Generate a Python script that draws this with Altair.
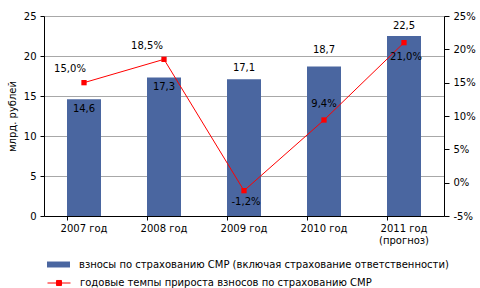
import altair as alt
import pandas as pd

cats = ["2007 год", "2008 год", "2009 год", "2010 год", "2011 год|(прогноз)"]
premiums = [14.6, 17.3, 17.1, 18.7, 22.5]
growth = [15.0, 18.5, -1.2, 9.4, 21.0]
bar_name = "взносы по страхованию СМР (включая страхование ответственности)"
line_name = "годовые темпы прироста взносов по страхованию СМР"

df = pd.DataFrame({
    "cat": cats,
    "prem": premiums,
    "grow": growth,
    "prem_lbl": [f"{v:.1f}".replace(".", ",") for v in premiums],
    "grow_lbl": [f"{v:.1f}".replace(".", ",") + "%" for v in growth],
    "s_bar": [bar_name] * len(cats),
    "s_line": [line_name] * len(cats),
})

FONT = "DejaVu Sans"
BLUE = "#4A66A0"
RED = "#FF0000"

x = alt.X("cat:N", sort=cats, title=None,
          scale=alt.Scale(paddingInner=0.575, paddingOuter=0.2875),
          axis=alt.Axis(bandPosition=0, labelAngle=0, domainColor="black",
                        tickColor="black", tickSize=4, labelPadding=3,
                        labelExpr="split(datum.label, '|')", labelLineHeight=12,
                        labelFontSize=10, labelColor="black", labelFont=FONT))

base = alt.Chart(df)

yL = alt.Y("prem:Q", title="млрд. рублей",
           scale=alt.Scale(domain=[0, 25], nice=False, zero=True),
           axis=alt.Axis(values=[0, 5, 10, 15, 20, 25], tickCount=6, labelOverlap=False,
                         grid=True, gridColor="#A8A8A8",
                         domainColor="black", tickColor="black", tickSize=4,
                         labelPadding=4, labelFontSize=10, labelColor="black",
                         labelFont=FONT, titleFont=FONT, titleFontSize=10,
                         titleFontWeight="normal", titleColor="black", titlePadding=6))

bars = base.mark_bar(color=BLUE).encode(
    x=x, y=yL,
    fill=alt.Fill("s_bar:N", scale=alt.Scale(range=[BLUE]),
                  legend=alt.Legend(title=None, orient="none", legendX=3, legendY=237,
                                    symbolType="M-1,-0.26H1V0.26H-1Z", symbolSize=529,
                                    symbolStrokeWidth=0, labelFontSize=10, labelFont=FONT,
                                    labelColor="black", labelOffset=9, padding=0,
                                    labelLimit=500)),
)

bar_dy = [10, 9, -11, -16, -10]
bar_texts = []
for c, d in zip(cats, bar_dy):
    bar_texts.append(
        base.transform_filter(alt.datum.cat == c)
        .mark_text(font=FONT, fontSize=10, color="black", dy=d)
        .encode(x=x, y=yL, text="prem_lbl:N")
    )

left = alt.layer(bars, *bar_texts)

yR = alt.Y("grow:Q", title=None,
           scale=alt.Scale(domain=[-5, 25], nice=False, zero=False),
           axis=alt.Axis(orient="right", values=[-5, 0, 5, 10, 15, 20, 25], tickCount=7,
                         labelOverlap=False, grid=False,
                         domainColor="black", tickColor="black", tickSize=5,
                         labelPadding=4, labelFontSize=10, labelColor="black",
                         labelFont=FONT, labelExpr="datum.value + '%'"))

line = base.mark_line(strokeWidth=1).encode(
    x=x, y=yR,
    stroke=alt.Stroke("s_line:N", scale=alt.Scale(range=[RED]),
                      legend=alt.Legend(title=None, orient="none", legendX=3, legendY=255,
                                        symbolType="M-1,0H1M-0.22,-0.22H0.22V0.22H-0.22Z",
                                        symbolSize=529, symbolStrokeWidth=1,
                                        symbolFillColor=RED, labelFontSize=10,
                                        labelFont=FONT, labelColor="black", labelOffset=9,
                                        padding=0, labelLimit=500)),
)
pts = base.mark_square(size=28, color=RED, opacity=1).encode(x=x, y=yR)

pct_off = [(-14, -14), (-17, -13), (2, 11), (0, -16), (2, 14)]
pct_texts = []
for c, (ddx, ddy) in zip(cats, pct_off):
    pct_texts.append(
        base.transform_filter(alt.datum.cat == c)
        .mark_text(font=FONT, fontSize=10, color="black", dx=ddx, dy=ddy)
        .encode(x=x, y=yR, text="grow_lbl:N")
    )

right = alt.layer(line, pts, *pct_texts)

chart = (
    alt.layer(left, right)
    .resolve_scale(y="independent", fill="independent", stroke="independent")
    .properties(width=400, height=200,
                autosize=alt.AutoSizeParams(type="none"),
                padding={"left": 44, "top": 16, "right": 36, "bottom": 72})
    .configure_view(fill="#E0DFDB", strokeWidth=0)
    .configure(background="white")
)

chart.save("out.html", embed_options={"renderer": "svg", "actions": False})
